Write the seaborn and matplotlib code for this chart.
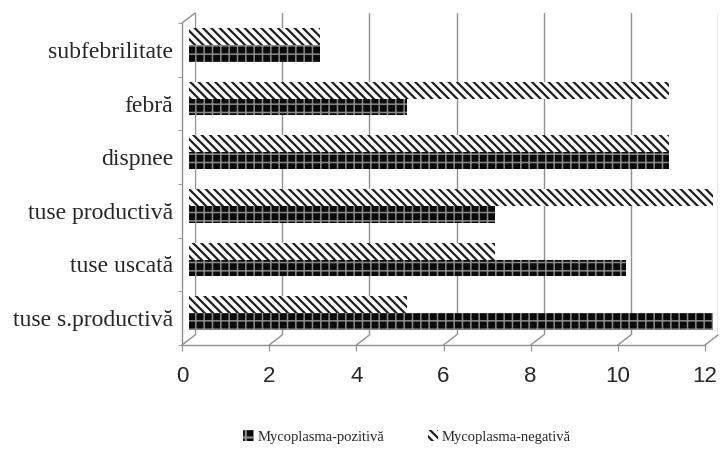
import matplotlib
matplotlib.use("Agg")
import matplotlib.pyplot as plt
from matplotlib.lines import Line2D
from matplotlib.patches import Patch
import pandas as pd
import seaborn as sb

# date
simptome = ['subfebrilitate', 'febră', 'dispnee', 'tuse productivă',
            'tuse uscată', 'tuse s.productivă']
pozitiva = [3, 5, 11, 7, 10, 12]
negativa = [3, 11, 11, 12, 7, 5]
grupuri = ['Mycoplasma-pozitivă', 'Mycoplasma-negativă']
x_ticks = [0, 2, 4, 6, 8, 10, 12]

df = pd.DataFrame({
    'simptom': simptome * 2,
    'valoare': pozitiva + negativa,
    'grup': [grupuri[0]] * len(simptome) + [grupuri[1]] * len(simptome),
})

sb.set_style("white")
plt.rcParams['hatch.linewidth'] = 1.6

W, H = 721, 453
fig = plt.figure(figsize=(W / 100, H / 100), dpi=100)


def box(l, t, r, b):
    # pixeli -> fractiuni din figura
    return [l / W, 1 - b / H, (r - l) / W, (b - t) / H]


grid_col = '#8f8f8f'

# peretele din spate (grila)
ax_back = fig.add_axes(box(195, 13, 718, 335))
ax_back.set_xlim(0, 12)
ax_back.set_xticks(x_ticks)
ax_back.set_yticks([])
ax_back.grid(axis='x', color=grid_col, lw=1)
ax_back.tick_params(length=0, labelbottom=False)
for s in ax_back.spines.values():
    s.set_visible(False)

# barele
ax = fig.add_axes(box(189, 18, 713, 340))
ax.patch.set_alpha(0)
sb.barplot(data=df, x='valoare', y='simptom', hue='grup', order=simptome,
           hue_order=[grupuri[1], grupuri[0]], orient='h', width=0.63,
           palette={grupuri[0]: '#111111', grupuri[1]: 'white'},
           errorbar=None, legend=False, ax=ax)
stil = {
    grupuri[0]: dict(face='#0a0a0a', edge='#8a8a8a', hatch='++', hlw=1.1),
    grupuri[1]: dict(face='white', edge='#1e1e1e', hatch='\\\\\\\\', hlw=1.6),
}
for cont, g in zip(ax.containers, [grupuri[1], grupuri[0]]):
    for p in cont:
        p.set_facecolor(stil[g]['face'])
        p.set_edgecolor(stil[g]['edge'])
        p.set_hatch(stil[g]['hatch'])
        p.set_linewidth(0)
        if hasattr(p, 'set_hatch_linewidth'):
            p.set_hatch_linewidth(stil[g]['hlw'])
ax.set_xlim(0, 12)
ax.set_ylim(len(simptome) - 0.5, -0.5)
ax.axis('off')

# axele din fata
ax_f = fig.add_axes(box(182, 23, 705, 345))
ax_f.patch.set_alpha(0)
ax_f.set_xlim(0, 12)
ax_f.set_ylim(len(simptome) - 0.5, -0.5)
ax_f.set_xticks(x_ticks)
ax_f.set_xticklabels([str(v) for v in x_ticks], fontfamily='Liberation Sans', fontsize=16)
ax_f.set_yticks(range(len(simptome)))
ax_f.set_yticklabels(simptome, fontfamily='Liberation Serif', fontsize=17)
ax_f.set_yticks([i - 0.5 for i in range(len(simptome) + 1)], minor=True)
ax_f.tick_params(axis='y', which='major', length=0, pad=6.5)
ax_f.tick_params(axis='y', which='minor', length=3, color=grid_col, direction='out', left=True)
ax_f.tick_params(axis='x', length=4, color=grid_col, direction='out', pad=11, bottom=True)
for k in ['top', 'right']:
    ax_f.spines[k].set_visible(False)
for k in ['left', 'bottom']:
    ax_f.spines[k].set_color(grid_col)
    ax_f.spines[k].set_linewidth(1)

# linii de perspectiva
inv = fig.transFigure.inverted()
fig.canvas.draw()
for v in x_ticks:
    p1 = inv.transform(ax_f.transData.transform((v, len(simptome) - 0.5)))
    p2 = inv.transform(ax_back.get_xaxis_transform().transform((v, 0)))
    fig.add_artist(Line2D([p1[0], p2[0]], [p1[1], p2[1]], color=grid_col, lw=1))
p1 = inv.transform(ax_f.transData.transform((0, -0.5)))
p2 = inv.transform(ax_back.get_xaxis_transform().transform((0, 1)))
fig.add_artist(Line2D([p1[0], p2[0]], [p1[1], p2[1]], color=grid_col, lw=1))

handles = [Patch(facecolor=stil[g]['face'], edgecolor=stil[g]['edge'],
                 hatch=stil[g]['hatch'], linewidth=0) for g in grupuri]
fig.legend(handles, grupuri, loc='center', bbox_to_anchor=(407 / W, 1 - 437 / H),
           ncol=2, frameon=False, prop={'family': 'Liberation Serif', 'size': 10.5},
           handlelength=0.7, handleheight=0.7, handletextpad=0.25, columnspacing=3)

fig.savefig('out.png', dpi=100)
